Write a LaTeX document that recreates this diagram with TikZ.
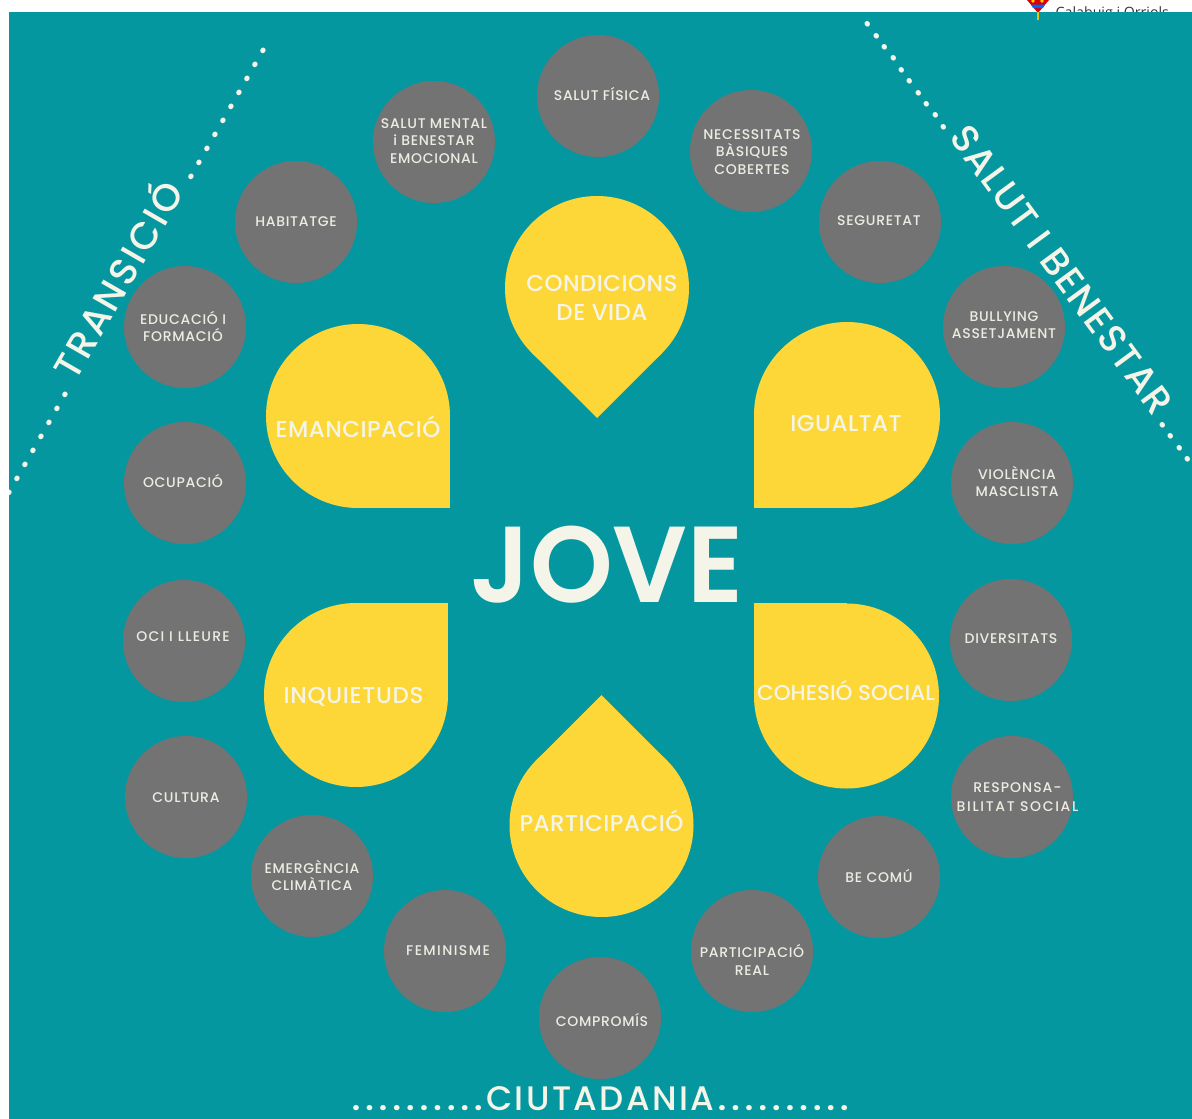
\documentclass[tikz,border=0pt]{standalone}
\usepackage{fontspec}
\setmainfont{Poppins Medium}[BoldFont=Poppins Bold]
\newfontfamily\logofont{Open Sans}
\newfontfamily\jovefont{Poppins SemiBold}
\definecolor{teal}{HTML}{05979F}
\definecolor{greyc}{HTML}{737373}
\definecolor{yel}{HTML}{FDD738}
\definecolor{cream}{HTML}{F4F5E8}
\definecolor{smalltxt}{HTML}{ECECE2}
\tikzset{
  dotc/.style={circle,fill=greyc,minimum size=122pt,inner sep=0pt},
  lab/.style={text=smalltxt,align=center,inner sep=0pt,font=\fontsize{14}{17.5}\selectfont\addfontfeatures{LetterSpace=5}},
  big/.style={text=cream,align=center,inner sep=0pt,font=\fontsize{23}{28}\selectfont\addfontfeatures{LetterSpace=2}},
  run/.style={text=cream,inner sep=0pt,anchor=base west,font=\fontsize{38}{38}\selectfont},
}
\newcommand\dotsrun[2]{\foreach \i in {1,...,#2}{\makebox[#1pt]{\fontsize{28}{28}\selectfont\bfseries .}}}
\begin{document}
\begin{tikzpicture}[x=1pt,y=-1pt]
\useasboundingbox (0,0) rectangle (1192,1119);
\fill[white] (0,0) rectangle (1192,1119);
% cropped logo behind the panel
\begin{scope}
\clip (0,0) rectangle (1192,1119);
\fill[red!85!black] (1027,0) -- (1049,0) -- (1038,13) -- cycle;
\fill[blue!60!cyan] (1031,4.5) -- (1045,4.5) -- (1043,8) -- (1033,8) -- cycle;
\fill[yellow!70!orange] (1033,1) circle (1.8pt) (1042,1) circle (1.8pt);
\node[anchor=base west,inner sep=0pt,text=black!80,font=\logofont\fontsize{14.2}{15}\selectfont] (logo) at (1055.5,17) {Calabuig i Orriols};
\end{scope}
\fill[teal] (9,12) rectangle (1192,1119);
\fill[yellow!70!orange!90!black] (1036.5,12) rectangle (1038.5,20);
% teardrops
\tikzset{dr/.style={fill=yel}}
\fill[dr] (597,288) circle (92pt);
\fill[dr] (597,418) -- (532,353) -- (597,288) -- (662,353) -- cycle;
\fill[dr] (358,416) circle (92pt);
\fill[dr] (358,416) rectangle (450,508);
\fill[dr] (847,415) circle (93pt);
\fill[dr] (847,415) rectangle (754,508);
\fill[dr] (356,695) circle (92pt);
\fill[dr] (356,695) rectangle (448,603);
\fill[dr] (846.5,696) circle (92.5pt);
\fill[dr] (846.5,696) rectangle (754,603);
\fill[dr] (601.5,825) circle (92pt);
\fill[dr] (601.5,695) -- (536.5,760) -- (601.5,825) -- (666.5,760) -- cycle;
\node[big] (b1) at (602,298) {CONDICIONS\\[1pt]DE VIDA};
\node[big] (b2) at (358,427) {EMANCIPACIÓ};
\node[big] (b3) at (846,423) {IGUALTAT};
\node[big,font=\fontsize{23}{28}\selectfont\addfontfeatures{LetterSpace=3}] (b4) at (353.5,697) {INQUIETUDS};
\node[big,font=\fontsize{21.5}{28}\selectfont] (b5) at (846,690) {COHESIÓ SOCIAL};
\node[big] (b6) at (601.5,821) {PARTICIPACIÓ};
\node[inner sep=0pt,text=cream,xscale=.975,transform shape,font=\jovefont\fontsize{108}{108}\selectfont] (jove) at (607,565) {JOVE};
% circles
\foreach \n/\x/\y in {a/598/96,b/434/142,c/751/151,d/296/222,e/880/222,f/1004/327,g/185/327,h/1012/483,i/185/483,j/1011/640,k/184/641,l/1012/797,m/186/797,n/879/877,o/312/876,p/752/951,q/445/951,r/600/1018}
  \node[dotc] (\n) at (\x,\y) {};
\node[lab] (ta) at (602,94) {SALUT FÍSICA};
\node[lab] (tb) at (434,141) {SALUT MENTAL\\i BENESTAR\\EMOCIONAL};
\node[lab] (tc) at (752,152) {NECESSITATS\\BÀSIQUES\\COBERTES};
\node[lab] (td) at (296,222) {HABITATGE};
\node[lab] (te) at (879,221) {SEGURETAT};
\node[lab] (tf) at (1004,325) {BULLYING\\ASSETJAMENT};
\node[lab] (tg) at (183,326.5) {EDUCACIÓ I\\FORMACIÓ};
\node[lab] (th) at (1017,481.5) {VIOLÈNCIA\\MASCLISTA};
\node[lab] (ti) at (183,481) {OCUPACIÓ};
\node[lab] (tj) at (1011,639) {DIVERSITATS};
\node[lab,font=\fontsize{14}{17.5}\selectfont\addfontfeatures{LetterSpace=9}] (tk) at (183,637) {OCI I LLEURE};
\node[lab,font=\fontsize{14}{19}\selectfont\addfontfeatures{LetterSpace=7}] (tl) at (1017.5,797) {RESPONSA-\\{\addfontfeatures{LetterSpace=12}BILITAT SOCIAL}};
\node[lab] (tm) at (186,798) {CULTURA};
\node[lab] (tn) at (879,876) {BE COMÚ};
\node[lab] (to) at (312,875.5) {EMERGÈNCIA\\CLIMÀTICA};
\node[lab] (tp) at (752,960) {PARTICIPACIÓ\\REAL};
\node[lab,font=\fontsize{14}{17.5}\selectfont\addfontfeatures{LetterSpace=10}] (tq) at (448,951) {FEMINISME};
\node[lab] (tr) at (602,1020) {COMPROMÍS};
% dotted titles
\begin{scope}
\clip (9,12) rectangle (1192,1119);
\node[run,rotate=60] (s1) at (7,501) {\dotsrun{16.1}{8}\makebox[236pt]{\addfontfeatures{LetterSpace=6}TRANSICIÓ}\dotsrun{16.1}{10}};
\node[run,rotate=-53.7] (s2) at (862,20) {\dotsrun{14.16}{10}\makebox[356pt]{\addfontfeatures{LetterSpace=3.5}SALUT I BENESTAR}\dotsrun{14}{4}};
\node[run,font=\fontsize{34}{34}\selectfont] (s3) at (349,1110) {\dotsrun{13.6}{10}\makebox[230pt]{\addfontfeatures{LetterSpace=7}CIUTADANIA}\dotsrun{13.6}{10}};
\end{scope}
\end{tikzpicture}
\end{document}
